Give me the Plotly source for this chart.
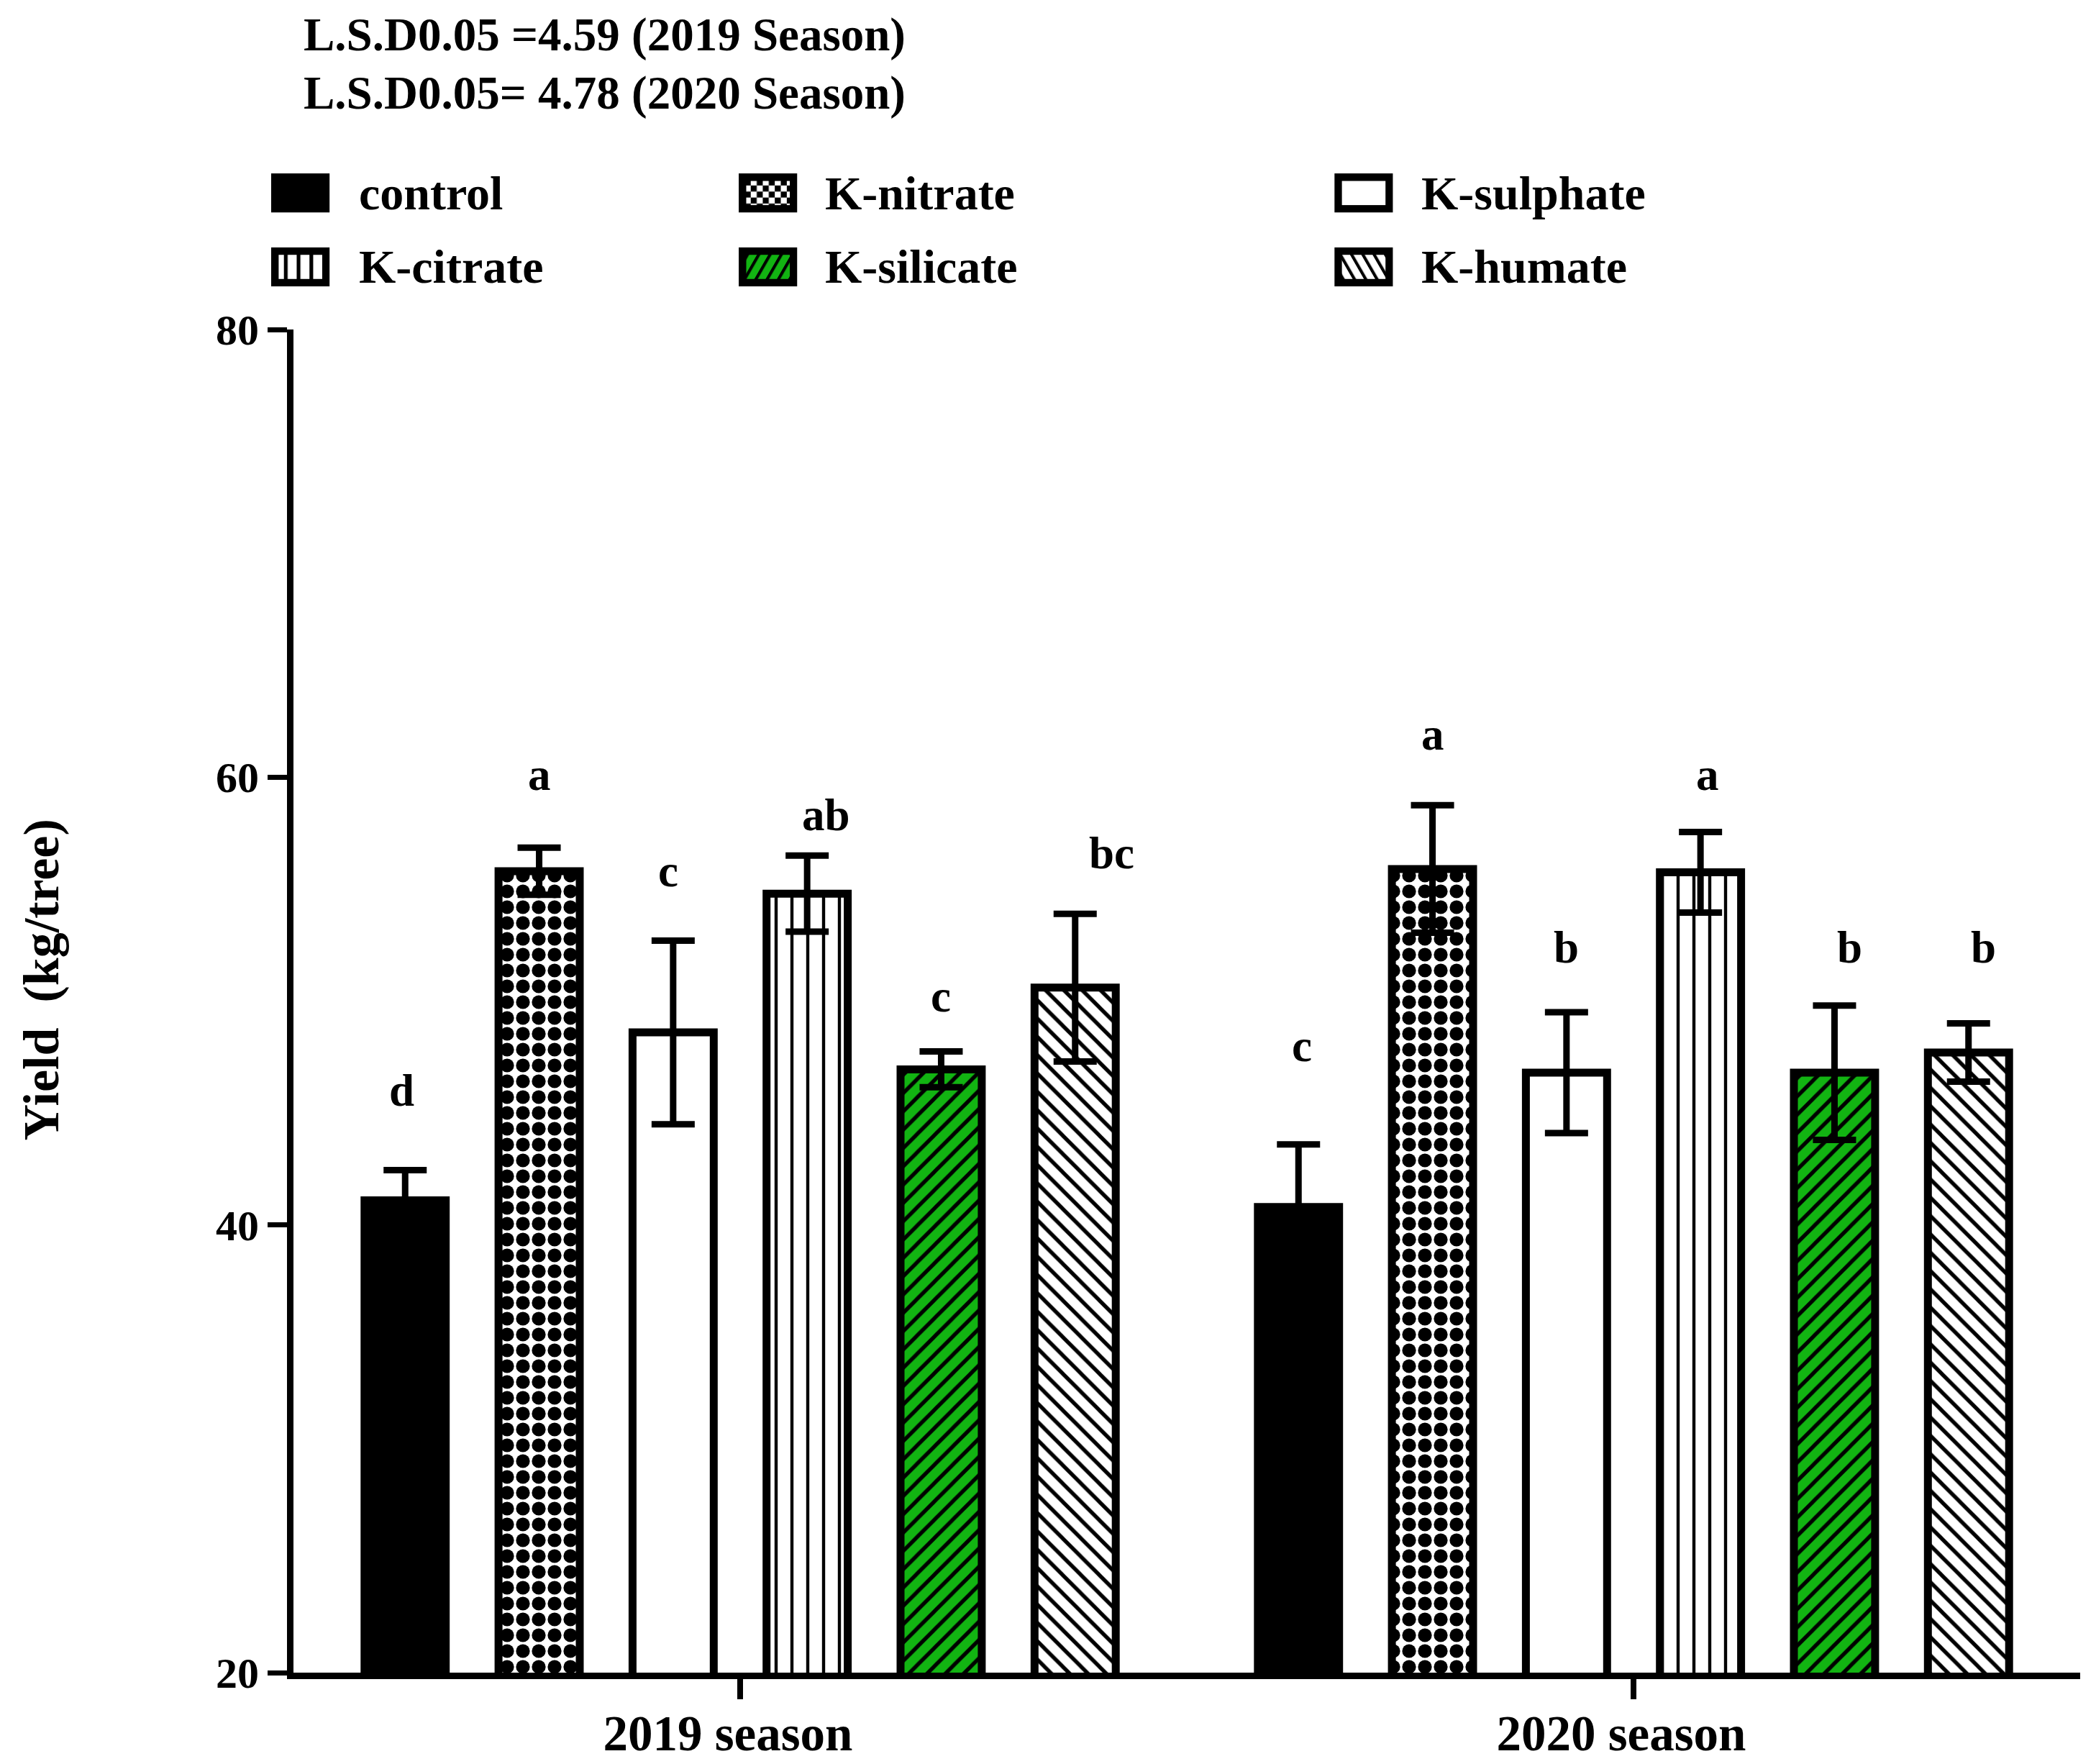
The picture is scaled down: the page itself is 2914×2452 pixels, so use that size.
import base64
import plotly.graph_objects as go

seasons = ["2019 season", "2020 season"]
treatments = ["control", "K-nitrate", "K-sulphate", "K-citrate", "K-silicate", "K-humate"]

# mean yield (kg/tree) per treatment, [2019, 2020]
yield_means = {
    "control":    [41.1, 40.8],
    "K-nitrate":  [55.8, 55.9],
    "K-sulphate": [48.6, 46.8],
    "K-citrate":  [54.8, 55.75],
    "K-silicate": [46.95, 46.8],
    "K-humate":   [50.6, 47.7],
}
yield_err = {
    "control":    [1.35, 2.8],
    "K-nitrate":  [1.05, 2.85],
    "K-sulphate": [4.1, 2.7],
    "K-citrate":  [1.7, 1.8],
    "K-silicate": [0.8, 3.0],
    "K-humate":   [3.3, 1.3],
}
letters = {
    "control":    ["d", "c"],
    "K-nitrate":  ["a", "a"],
    "K-sulphate": ["c", "b"],
    "K-citrate":  ["ab", "a"],
    "K-silicate": ["c", "b"],
    "K-humate":   ["bc", "b"],
}
letter_y = {
    "control":    [46.0, 48.0],
    "K-nitrate":  [60.1, 61.9],
    "K-sulphate": [55.8, 52.4],
    "K-citrate":  [58.3, 60.1],
    "K-silicate": [50.2, 52.4],
    "K-humate":   [56.6, 52.4],
}
lsd_lines = ["L.S.D0.05 =4.59 (2019 Season)", "L.S.D0.05= 4.78 (2020 Season)"]

FONT = "Liberation Serif"
GREEN = "#12b412"

styles = {
    "control":    dict(color="black"),
    "K-nitrate":  dict(color="white", pattern=dict(shape=".", fgcolor="black", bgcolor="white",
                                                   fgopacity=1, size=22, solidity=0.6)),
    "K-sulphate": dict(color="white"),
    "K-citrate":  dict(color="white", pattern=dict(shape="|", fgcolor="black", bgcolor="white",
                                                   fgopacity=1, size=22, solidity=0.2)),
    "K-silicate": dict(color=GREEN, pattern=dict(shape="/", fgcolor="black", bgcolor=GREEN,
                                                 fgopacity=1, size=18, solidity=0.3)),
    "K-humate":   dict(color="white", pattern=dict(shape="\\", fgcolor="black", bgcolor="white",
                                                   fgopacity=1, size=18, solidity=0.3)),
}

fig = go.Figure()
for name in treatments:
    m = dict(styles[name])
    m["line"] = dict(color="black", width=11)
    fig.add_trace(go.Bar(
        x=seasons,
        y=yield_means[name],
        name=name,
        marker=m,
        error_y=dict(type="data", array=yield_err[name], color="black", thickness=9, width=30),
        showlegend=False,
    ))

BARGAP = 0.1
slot = (1 - BARGAP) / len(treatments)
letter_dx = {
    "control": [-5, 5], "K-nitrate": [0, 0], "K-sulphate": [-7, 0],
    "K-citrate": [26, 10], "K-silicate": [0, 21], "K-humate": [51, 21],
}
annotations = []
for i, name in enumerate(treatments):
    for j, season in enumerate(seasons):
        annotations.append(dict(
            x=j + (i - 2.5) * slot, y=letter_y[name][j], xref="x", yref="y",
            text=letters[name][j], showarrow=False, xshift=letter_dx[name][j],
            font=dict(family=FONT, size=63, color="black", weight="bold"),
        ))

for k, line in enumerate(lsd_lines):
    annotations.append(dict(
        x=0.005, y=1.2197 - k * 0.0435, xref="paper", yref="paper",
        xanchor="left", yanchor="middle", text=line, showarrow=False,
        font=dict(family=FONT, size=65, color="black", weight="bold"),
    ))

annotations.append(dict(
    x=-0.141, y=0.516, xref="paper", yref="paper", textangle=-90,
    text="Yield  (kg/tree)", showarrow=False, xanchor="center", yanchor="middle",
    font=dict(family=FONT, size=70, color="black", weight="bold"),
))


# legend: bordered swatches drawn as small svg images, names as text
def swatch(name):
    fills = {
        "control": '<rect width="8" height="8" fill="black"/>',
        "K-nitrate": ('<rect width="16" height="16" fill="white"/>'
                      '<rect width="8" height="8" fill="black"/><rect x="8" y="8" width="8" height="8" fill="black"/>'),
        "K-sulphate": '<rect width="8" height="8" fill="white"/>',
        "K-citrate": '<rect width="17" height="17" fill="white"/><rect width="5" height="17" fill="black"/>',
        "K-silicate": f'<rect width="13" height="13" fill="{GREEN}"/><rect width="4" height="13" fill="black"/>',
        "K-humate": '<rect width="13" height="13" fill="white"/><rect width="4" height="13" fill="black"/>',
    }
    sizes = {"control": 8, "K-nitrate": 16, "K-sulphate": 8, "K-citrate": 17, "K-silicate": 13, "K-humate": 13}
    rot = {"K-silicate": ' patternTransform="rotate(30)"', "K-humate": ' patternTransform="rotate(-30)"'}.get(name, "")
    s = sizes[name]
    svg = (
        '<svg xmlns="http://www.w3.org/2000/svg" width="78" height="52" viewBox="0 0 78 52">'
        f'<defs><pattern id="p" patternUnits="userSpaceOnUse" width="{s}" height="{s}"{rot}>'
        f'{fills[name]}</pattern></defs>'
        '<rect x="5" y="5" width="68" height="42" fill="url(#p)" stroke="black" stroke-width="10"/></svg>'
    )
    return "data:image/svg+xml;base64," + base64.b64encode(svg.encode()).decode()


legend_cols = [["control", "K-citrate"], ["K-nitrate", "K-silicate"], ["K-sulphate", "K-humate"]]
col_swatch_x = [-0.0125, 0.2492, 0.5826]
col_text_x = [0.0358, 0.2968, 0.6305]
row_y = [1.1016, 1.0466]
images = []
for c, col in enumerate(legend_cols):
    for r, name in enumerate(col):
        images.append(dict(
            source=swatch(name), xref="paper", yref="paper",
            x=col_swatch_x[c], y=row_y[r], sizex=0.0328, sizey=0.0292,
            xanchor="left", yanchor="middle", sizing="stretch", layer="above",
        ))
        annotations.append(dict(
            x=col_text_x[c], y=row_y[r], xref="paper", yref="paper",
            xanchor="left", yanchor="middle", text=name, showarrow=False,
            font=dict(family=FONT, size=66, color="black", weight="bold"),
        ))

fig.update_layout(
    width=2914, height=2452,
    margin=dict(l=400, r=30, t=450, b=133),
    paper_bgcolor="white", plot_bgcolor="white",
    barmode="group", bargap=BARGAP, bargroupgap=0.394,
    font=dict(family=FONT, color="black"),
    annotations=annotations,
    images=images,
    showlegend=False,
    xaxis=dict(
        showline=True, linecolor="black", linewidth=9,
        ticks="outside", ticklen=28, tickwidth=8, tickcolor="black",
        tickfont=dict(family=FONT, size=69, color="black", weight="bold"),
        ticklabelshift=-17, ticklabelstandoff=-12,
        showgrid=False, zeroline=False,
    ),
    yaxis=dict(
        range=[20, 80], tickvals=[20, 40, 60, 80],
        showline=True, linecolor="black", linewidth=9,
        ticks="outside", ticklen=27, tickwidth=7, tickcolor="black",
        tickfont=dict(family=FONT, size=60, color="black", weight="bold"),
        showgrid=False, zeroline=False,
    ),
)

fig.write_html("out.html")
